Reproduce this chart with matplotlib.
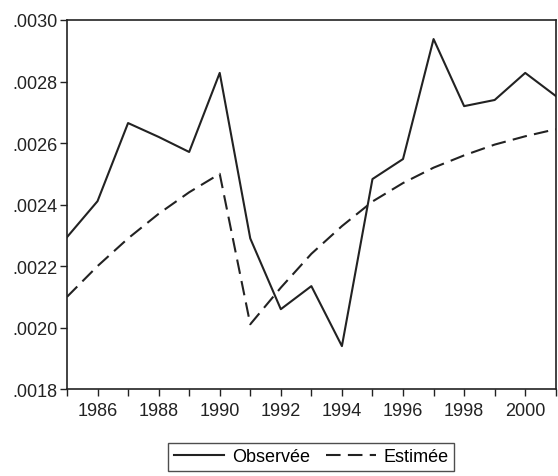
import numpy as np
import matplotlib.pyplot as plt
from matplotlib.ticker import FuncFormatter, MultipleLocator

years = list(range(1985, 2002))
observee = [0.002294, 0.002411, 0.002665, 0.002620, 0.002571, 0.002828,
            0.002290, 0.002060, 0.002135, 0.001940, 0.002483, 0.002548,
            0.002938, 0.002720, 0.002740, 0.002828, 0.002753]
estimee = [0.002100, 0.002200, 0.002290, 0.002370, 0.002440, 0.002500,
           0.002011, 0.002130, 0.002240, 0.002330, 0.002410, 0.002470,
           0.002520, 0.002560, 0.002595, 0.002622, 0.002645]

plt.rcParams['font.family'] = ['Liberation Sans', 'DejaVu Sans']

fig = plt.figure(figsize=(5.58, 4.77), dpi=100)
ax = fig.add_axes([0.120, 0.182, 0.876, 0.774])

ax.plot(years, observee, color='#222222', lw=1.5, label='Observée')
ax.plot(years, estimee, color='#222222', lw=1.5, dashes=(7, 3.5), label='Estimée')

ax.set_xlim(1985, 2001)
ax.set_ylim(0.0018, 0.0030)
ax.xaxis.set_minor_locator(MultipleLocator(1))
ax.set_xticks(range(1986, 2001, 2))
ax.yaxis.set_major_locator(MultipleLocator(0.0002))
ax.yaxis.set_major_formatter(FuncFormatter(lambda v, p: ('%.4f' % v).lstrip('0')))

ax.tick_params(axis='both', which='both', direction='out', length=5, width=1,
               colors='#222222', labelsize=13)
ax.tick_params(axis='x', pad=4)
ax.tick_params(axis='y', pad=2)
for s in ax.spines.values():
    s.set_linewidth(1.2)
    s.set_color('#222222')

leg = ax.legend(loc='upper center', bbox_to_anchor=(0.50, -0.145), ncol=2,
                frameon=True, fancybox=False, edgecolor='#222222', fontsize=13,
                handlelength=2.8, columnspacing=0.9, borderpad=0.3,
                handletextpad=0.4, borderaxespad=0)
leg.get_frame().set_linewidth(1.0)

fig.savefig('out.png', dpi=100)
